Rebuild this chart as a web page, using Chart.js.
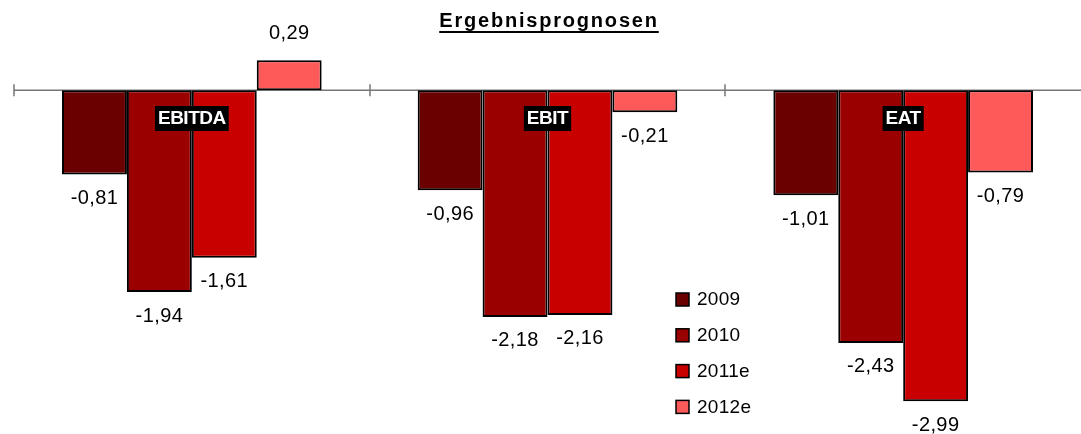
<!DOCTYPE html>
<html>
<head>
<meta charset="utf-8">
<script src="https://cdn.jsdelivr.net/npm/chart.js@4/dist/chart.umd.min.js"></script>
<style>
  html, body { margin: 0; padding: 0; background: #fff; overflow: hidden; }
  canvas { display: block; }
</style>
</head>
<body>
<canvas id="prognose" width="1081" height="434"></canvas>
<script>
// Daten
const kategorien = ["EBITDA", "EBIT", "EAT"];
const jahre = ["2009", "2010", "2011e", "2012e"];
const werte2009 = [-0.81, -0.96, -1.01];
const werte2010 = [-1.94, -2.18, -2.43];
const werte2011e = [-1.61, -2.16, -2.99];
const werte2012e = [0.29, -0.21, -0.79];
const farben = ['#6b0000', '#9b0000', '#c80000', '#ff5a5a'];

const schrift = '"Liberation Sans", Arial, sans-serif';

function fmt(v) {
  return v.toFixed(2).replace('.', ',');
}

// Achse, Titel, Beschriftungen, Legende selbst zeichnen
const extras = {
  id: 'extras',
  beforeDatasetsDraw(chart) {
    const ctx = chart.ctx;
    const x = chart.scales.x;
    const y0 = chart.scales.y.getPixelForValue(0);
    const breite = (x.right - x.left) / kategorien.length;
    ctx.save();
    ctx.strokeStyle = '#777';
    ctx.lineWidth = 1.5;
    ctx.beginPath();
    ctx.moveTo(x.left, y0);
    ctx.lineTo(x.right, y0);
    // letzter Strich liegt am Bildrand, daher weglassen
    for (let i = 0; i < kategorien.length; i++) {
      const px = Math.round(x.left + i * breite);
      ctx.moveTo(px, y0 - 6);
      ctx.lineTo(px, y0 + 6);
    }
    ctx.stroke();
    ctx.restore();
  },
  afterDatasetsDraw(chart) {
    const ctx = chart.ctx;
    const x = chart.scales.x;
    ctx.save();

    // Titel
    ctx.font = 'bold 20px ' + schrift;
    ctx.letterSpacing = '1.8px';
    ctx.fillStyle = '#000';
    ctx.textAlign = 'center';
    ctx.textBaseline = 'middle';
    const titel = 'Ergebnisprognosen';
    const tx = 549, ty = 21;
    ctx.fillText(titel, tx, ty);
    const tw = ctx.measureText(titel).width;
    ctx.fillRect(tx - tw / 2, ty + 10, tw, 2);

    // Werte
    ctx.font = '20px ' + schrift;
    ctx.letterSpacing = '0.4px';
    chart.data.datasets.forEach((ds, di) => {
      const meta = chart.getDatasetMeta(di);
      meta.data.forEach((bar, i) => {
        const v = ds.data[i];
        const ly = v < 0 ? bar.y + 24 : bar.y - 27;
        ctx.fillStyle = '#000';
        ctx.fillText(fmt(v), bar.x, ly);
      });
    });

    // Kategorien
    ctx.font = 'bold 19px ' + schrift;
    ctx.letterSpacing = '-0.5px';
    kategorien.forEach((k, i) => {
      const cx = x.getPixelForValue(i);
      const w = ctx.measureText(k).width + 6;
      ctx.fillStyle = '#000';
      ctx.fillRect(cx - w / 2, 106, w, 25);
      ctx.fillStyle = '#fff';
      ctx.fillText(k, cx, 119);
    });

    // Legende
    ctx.font = '19px ' + schrift;
    ctx.letterSpacing = '0.3px';
    ctx.textAlign = 'left';
    chart.data.datasets.forEach((ds, di) => {
      const ly = 300 + di * 35.8;
      ctx.fillStyle = ds.backgroundColor;
      ctx.fillRect(676, ly - 7, 13, 13);
      ctx.strokeStyle = '#000';
      ctx.lineWidth = 1.5;
      ctx.strokeRect(676, ly - 7, 13, 13);
      ctx.fillStyle = '#000';
      ctx.fillText(ds.label, 697, ly);
    });
    ctx.restore();
  }
};

const reihen = [werte2009, werte2010, werte2011e, werte2012e];

new Chart(document.querySelector('#prognose').getContext('2d'), {
  type: 'bar',
  data: {
    labels: kategorien,
    datasets: reihen.map((d, i) => ({
      label: jahre[i],
      data: d,
      backgroundColor: farben[i],
      borderColor: '#000',
      borderWidth: 2,
      borderSkipped: false,
      categoryPercentage: 0.73,
      barPercentage: 1.0
    }))
  },
  options: {
    responsive: false,
    animation: false,
    layout: { padding: { left: 14, right: 0, top: 28, bottom: 11 } },
    plugins: {
      legend: { display: false },
      tooltip: { enabled: false }
    },
    scales: {
      x: { display: false },
      y: { display: false, min: -3.2, max: 0.6 }
    }
  },
  plugins: [extras]
});
</script>
</body>
</html>
